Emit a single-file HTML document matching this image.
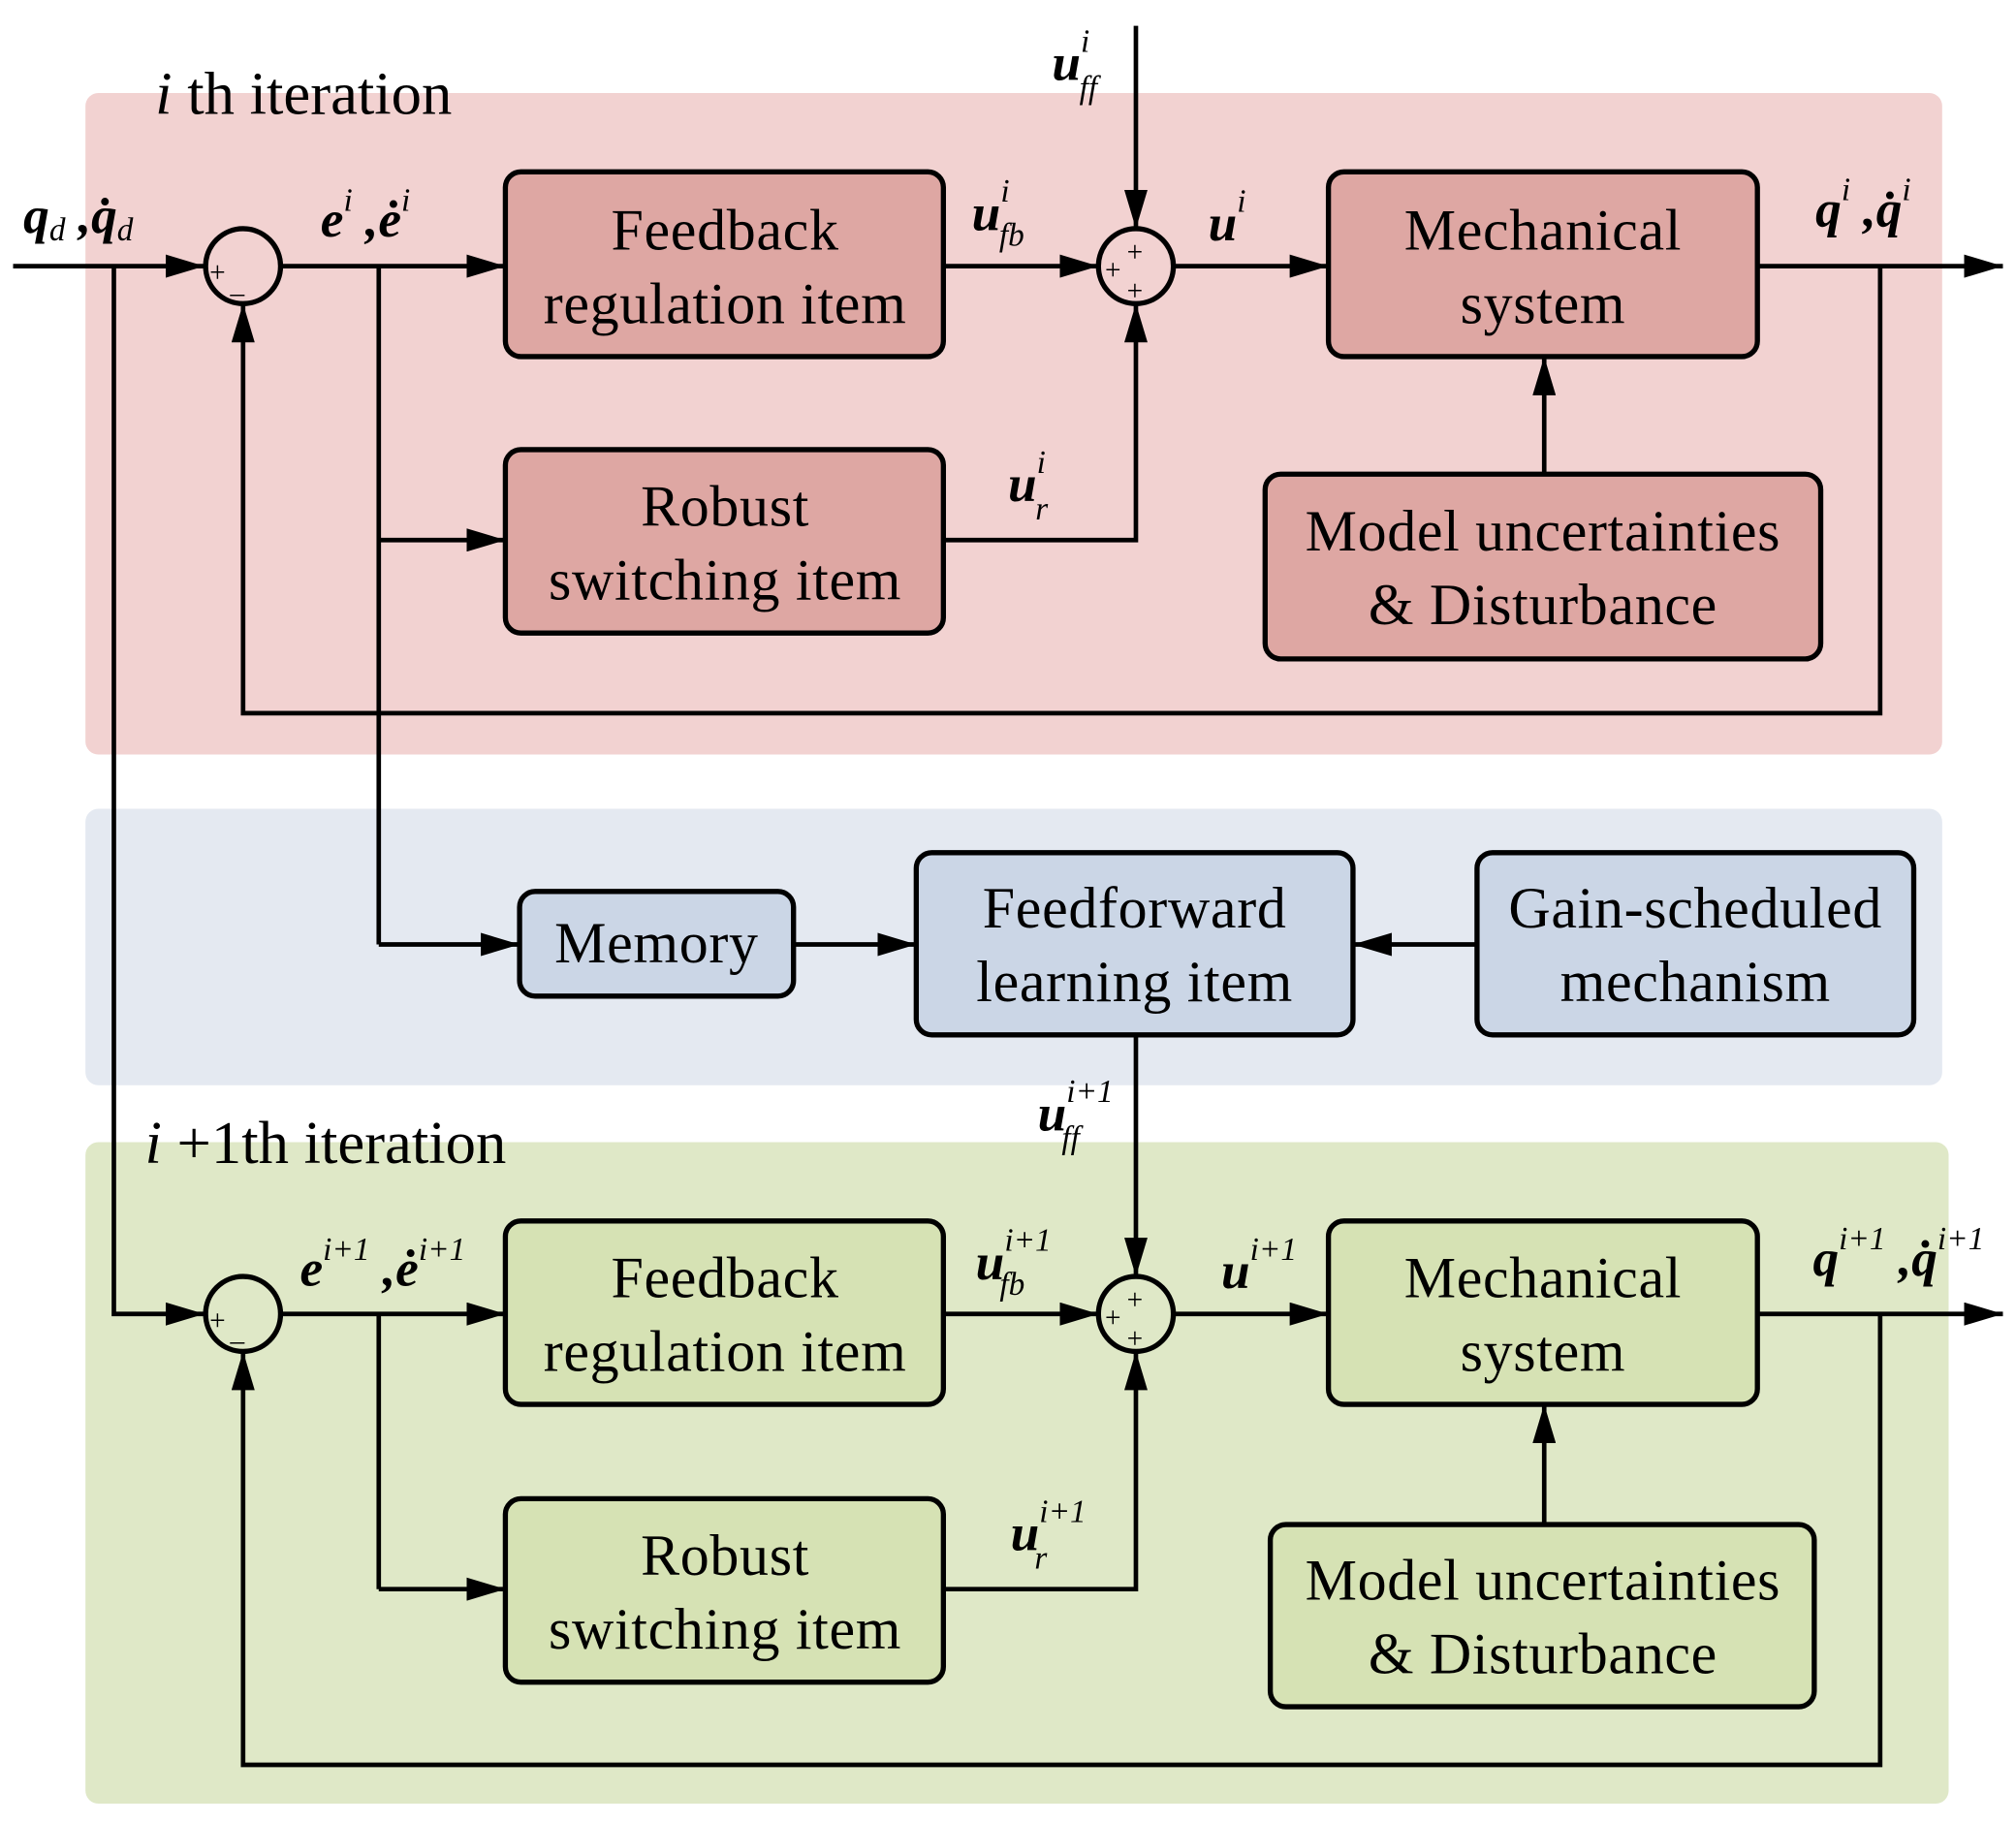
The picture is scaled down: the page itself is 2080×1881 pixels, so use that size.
<!DOCTYPE html>
<html><head><meta charset="utf-8"><style>
html,body{margin:0;padding:0;background:#fff}
svg{display:block}
text{font-family:"Liberation Serif",serif;fill:#000}
.bx{font-size:45px;text-anchor:middle;letter-spacing:0.5px}
.m{font-weight:bold;font-style:italic;font-size:40px}
.s{font-style:italic;font-size:25px;font-weight:normal}
.t{font-size:47px}
</style></head><body>
<svg width="2080" height="1881" viewBox="0 0 1560 1411" xmlns="http://www.w3.org/2000/svg">
<defs><marker id="ar" viewBox="0 0 30 18" refX="30" refY="9" markerWidth="30" markerHeight="18" markerUnits="userSpaceOnUse" orient="auto"><path d="M0,0 L30,9 L0,18 z" fill="#000"/></marker></defs>
<style>.ln{stroke:#000;stroke-width:3.5;fill:none}.ar{stroke:#000;stroke-width:3.5;fill:none;marker-end:url(#ar)}.b{stroke:#000;stroke-width:4}</style>
<!-- regions -->
<rect x="66" y="72" width="1437" height="512" rx="10" fill="#f2d2d1"/>
<rect x="66" y="626" width="1437" height="214" rx="10" fill="#e4e9f1"/>
<rect x="66" y="884" width="1442" height="512" rx="10" fill="#dfe8c7"/>

<text x="120" y="88" class="t"><tspan font-style="italic">i</tspan> th iteration</text>
<text x="112" y="900" class="t"><tspan font-style="italic">i</tspan> +1th iteration</text>

<!-- TOP -->
<path class="ar" d="M10,206 H158"/>
<circle cx="188" cy="206" r="29" fill="none" class="b"/>
<text x="162" y="218" font-size="22">+</text><text x="178" y="226" font-size="22">_</text>
<path class="ar" d="M217,206 H391"/>
<path class="ln" d="M293,206 V731"/>
<path class="ar" d="M293,731 H402"/>
<path class="ar" d="M293,418 H391"/>
<rect x="391" y="133" width="339" height="143" rx="12" fill="#dea7a3" class="b"/>
<text class="bx" x="561" y="193">Feedback</text><text class="bx" x="561" y="250">regulation item</text>
<rect x="391" y="348" width="339" height="142" rx="12" fill="#dea7a3" class="b"/>
<text class="bx" x="561" y="407">Robust</text><text class="bx" x="561" y="464">switching item</text>
<path class="ar" d="M730,206 H850"/>
<circle cx="879" cy="206" r="29" fill="none" class="b"/>
<text x="872" y="202" font-size="22">+</text><text x="855" y="216" font-size="22">+</text><text x="872" y="232" font-size="22">+</text>
<path class="ar" d="M879,20 V177"/>
<path class="ar" d="M730,418 H879 V235"/>
<path class="ar" d="M908,206 H1028"/>
<rect x="1028" y="133" width="332" height="143" rx="12" fill="#dea7a3" class="b"/>
<text class="bx" x="1194" y="193">Mechanical</text><text class="bx" x="1194" y="250">system</text>
<rect x="979" y="367" width="430" height="143" rx="12" fill="#dea7a3" class="b"/>
<text class="bx" x="1194" y="426">Model uncertainties</text><text class="bx" x="1194" y="483">&amp; Disturbance</text>
<path class="ar" d="M1195,367 V276"/>
<path class="ar" d="M1360,206 H1550"/>
<path class="ar" d="M1455,206 V552 H188 V235"/>
<!-- top labels -->
<text x="18" y="180" class="m">q<tspan class="s" font-style="normal" dy="6">d</tspan><tspan dy="-6"> ,q̇</tspan><tspan class="s" font-style="normal" dy="6">d</tspan></text>
<text x="248" y="183" class="m">e<tspan class="s" dy="-20">i</tspan><tspan dy="20"> ,ė</tspan><tspan class="s" dy="-20">i</tspan></text>
<text x="752" y="178" class="m">u<tspan class="s" dy="-22">i</tspan><tspan class="s" dx="-8" dy="34">fb</tspan></text>
<text x="935" y="186" class="m">u<tspan class="s" dy="-22">i</tspan></text>
<text x="1405" y="175" class="m">q<tspan class="s" dy="-20">i</tspan><tspan dy="20"> ,q̇</tspan><tspan class="s" dy="-20">i</tspan></text>
<text x="814" y="62" class="m">u<tspan class="s" dy="-22">i</tspan><tspan class="s" dx="-8" dy="36">ff</tspan></text>
<text x="780" y="388" class="m">u<tspan class="s" dy="-22">i</tspan><tspan class="s" dx="-8" dy="36">r</tspan></text>

<!-- MIDDLE -->
<rect x="402" y="690" width="212" height="81" rx="12" fill="#cbd6e6" class="b"/>
<text class="bx" x="508" y="745">Memory</text>
<path class="ar" d="M614,731 H709"/>
<rect x="709" y="660" width="338" height="141" rx="12" fill="#cbd6e6" class="b"/>
<text class="bx" x="878" y="718">Feedforward</text><text class="bx" x="878" y="775">learning item</text>
<rect x="1143" y="660" width="338" height="141" rx="12" fill="#cbd6e6" class="b"/>
<text class="bx" x="1312" y="718">Gain-scheduled</text><text class="bx" x="1312" y="775">mechanism</text>
<path class="ar" d="M1143,731 H1047"/>
<path class="ar" d="M879,801 V988"/>
<text x="803" y="875" class="m">u<tspan class="s" dy="-22">i+1</tspan><tspan class="s" dx="-40" dy="36">ff</tspan></text>

<!-- BOTTOM -->
<path class="ar" d="M88,206 V1017 H158"/>
<circle cx="188" cy="1017" r="29" fill="none" class="b"/>
<text x="162" y="1029" font-size="22">+</text><text x="178" y="1037" font-size="22">_</text>
<path class="ar" d="M217,1017 H391"/>
<path class="ln" d="M293,1017 V1230"/>
<path class="ar" d="M293,1230 H391"/>
<rect x="391" y="945" width="339" height="142" rx="12" fill="#d6e2b4" class="b"/>
<text class="bx" x="561" y="1004">Feedback</text><text class="bx" x="561" y="1061">regulation item</text>
<rect x="391" y="1160" width="339" height="142" rx="12" fill="#d6e2b4" class="b"/>
<text class="bx" x="561" y="1219">Robust</text><text class="bx" x="561" y="1276">switching item</text>
<path class="ar" d="M730,1017 H850"/>
<circle cx="879" cy="1017" r="29" fill="none" class="b"/>
<text x="872" y="1013" font-size="22">+</text><text x="855" y="1027" font-size="22">+</text><text x="872" y="1043" font-size="22">+</text>
<path class="ar" d="M730,1230 H879 V1046"/>
<path class="ar" d="M908,1017 H1028"/>
<rect x="1028" y="945" width="332" height="142" rx="12" fill="#d6e2b4" class="b"/>
<text class="bx" x="1194" y="1004">Mechanical</text><text class="bx" x="1194" y="1061">system</text>
<rect x="983" y="1180" width="421" height="141" rx="12" fill="#d6e2b4" class="b"/>
<text class="bx" x="1194" y="1238">Model uncertainties</text><text class="bx" x="1194" y="1295">&amp; Disturbance</text>
<path class="ar" d="M1195,1180 V1087"/>
<path class="ar" d="M1360,1017 H1550"/>
<path class="ar" d="M1455,1017 V1366 H188 V1046"/>
<!-- bottom labels -->
<text x="232" y="995" class="m">e<tspan class="s" dy="-20">i+1</tspan><tspan dy="20"> ,ė</tspan><tspan class="s" dy="-20">i+1</tspan></text>
<text x="755" y="990" class="m">u<tspan class="s" dy="-22">i+1</tspan><tspan class="s" dx="-40" dy="34">fb</tspan></text>
<text x="945" y="997" class="m">u<tspan class="s" dy="-22">i+1</tspan></text>
<text x="1403" y="987" class="m">q<tspan class="s" dy="-20">i+1</tspan><tspan dy="20"> ,q̇</tspan><tspan class="s" dy="-20">i+1</tspan></text>
<text x="782" y="1200" class="m">u<tspan class="s" dy="-22">i+1</tspan><tspan class="s" dx="-40" dy="36">r</tspan></text>
</svg>
</body></html>
